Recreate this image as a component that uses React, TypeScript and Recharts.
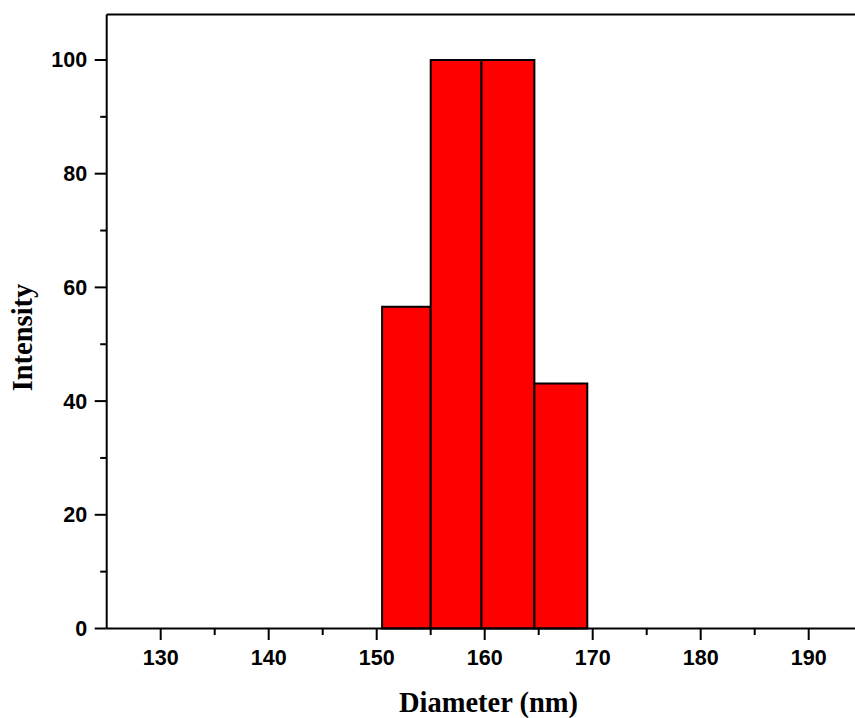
import React from 'react';
import { ComposedChart, XAxis, YAxis, ReferenceArea } from 'recharts';

// Histogram bins (nm) and intensities
const binStarts = [150.5, 155.0, 159.7, 164.6];
const binEnds = [155.0, 159.7, 164.6, 169.5];
const intensities = [56.6, 100, 100, 43.1];

const xTicks = [130, 135, 140, 145, 150, 155, 160, 165, 170, 175, 180, 185, 190];
const xMajor = [130, 140, 150, 160, 170, 180, 190];
const yTicks = [0, 10, 20, 30, 40, 50, 60, 70, 80, 90, 100];
const yMajor = [0, 20, 40, 60, 80, 100];

const xDomain = [125, 195];
const yDomain = [0, 108];

const tickFont = { fontFamily: '"Liberation Sans", Arial, sans-serif', fontWeight: 700, fontSize: 21.5 };
const titleFont = { fontFamily: '"Liberation Serif", "Times New Roman", serif', fontWeight: 700, fontSize: 28.5 };

const chartData = binStarts.map((s, i) => ({ x: (s + binEnds[i]) / 2, y: intensities[i] }));

const XTick = (props: any) => {
  const { x, y, payload } = props;
  const major = xMajor.includes(payload.value);
  return (
    <g>
      <line x1={x} y1={y} x2={x} y2={y + (major ? 11.5 : 6.5)} stroke="#000" strokeWidth={2} />
      {major && (
        <text x={x} y={y + 36.5} textAnchor="middle" fill="#000" style={tickFont}>
          {payload.value}
        </text>
      )}
    </g>
  );
};

const YTick = (props: any) => {
  const { x, y, payload } = props;
  const major = yMajor.includes(payload.value);
  return (
    <g>
      <line x1={x - (major ? 12 : 6.5)} y1={y} x2={x} y2={y} stroke="#000" strokeWidth={2} />
      {major && (
        <text x={x - 19.5} y={y + 7.5} textAnchor="end" fill="#000" style={tickFont}>
          {payload.value}
        </text>
      )}
    </g>
  );
};

export default function App() {
  return (
    <div style={{ position: 'fixed', left: 0, top: 0, width: 855, height: 718, overflow: 'hidden', background: '#fff' }}>
      <ComposedChart
        width={870}
        height={718}
        data={chartData}
        margin={{ top: 4.5, left: 46.7, right: 7.3, bottom: 29.5 }}
      >
        <XAxis
          xAxisId="bottom"
          dataKey="x"
          type="number"
          domain={xDomain}
          ticks={xTicks}
          interval={0}
          allowDataOverflow
          height={60}
          tickSize={0}
          tickMargin={0}
          tick={XTick}
          tickLine={false}
          axisLine={{ stroke: '#000', strokeWidth: 2 }}
        />
        <XAxis
          xAxisId="top"
          dataKey="x"
          orientation="top"
          type="number"
          domain={xDomain}
          allowDataOverflow
          height={10}
          tick={false}
          tickLine={false}
          axisLine={{ stroke: '#000', strokeWidth: 2 }}
        />
        <YAxis
          yAxisId="left"
          type="number"
          domain={yDomain}
          ticks={yTicks}
          interval={0}
          allowDataOverflow
          width={60}
          tickSize={0}
          tickMargin={0}
          tick={YTick}
          tickLine={false}
          axisLine={{ stroke: '#000', strokeWidth: 2 }}
        />
        {binStarts.map((s, i) => (
          <ReferenceArea
            key={i}
            xAxisId="bottom"
            yAxisId="left"
            x1={s}
            x2={binEnds[i]}
            y1={0}
            y2={intensities[i]}
            fill="#ff0000"
            fillOpacity={1}
            stroke="#000"
            strokeWidth={2}
            ifOverflow="visible"
          />
        ))}
      </ComposedChart>
      <svg width={855} height={718} style={{ position: 'absolute', left: 0, top: 0, pointerEvents: 'none' }}>
        <text x={488.5} y={712} textAnchor="middle" fill="#000" style={titleFont}>
          Diameter (nm)
        </text>
        <text
          x={0}
          y={0}
          transform="translate(31.7, 337.5) rotate(-90)"
          textAnchor="middle"
          fill="#000"
          style={titleFont}
        >
          Intensity
        </text>
      </svg>
    </div>
  );
}
